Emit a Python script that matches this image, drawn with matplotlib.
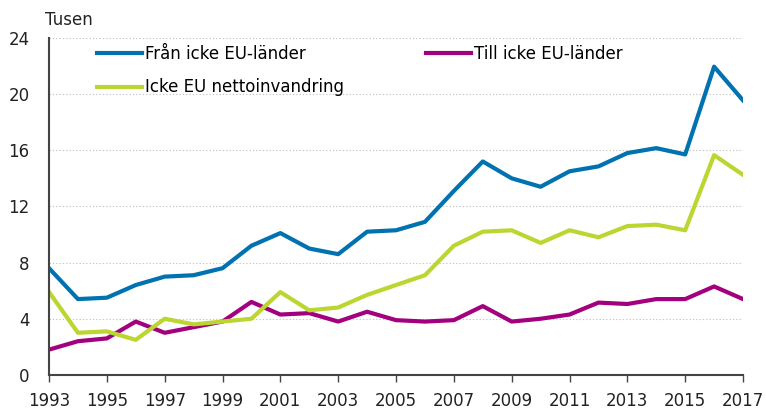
import matplotlib.pyplot as plt

plt.rcParams['font.family'] = ['DejaVu Sans']

years = list(range(1993, 2018))
fran = [7.6, 5.4, 5.5, 6.4, 7.0, 7.1, 7.6, 9.2, 10.1, 9.0, 8.6, 10.2, 10.3,
        10.9, 13.1, 15.2, 14.0, 13.4, 14.5, 14.85, 15.8, 16.15, 15.7, 21.95, 19.55]
till = [1.8, 2.4, 2.6, 3.8, 3.0, 3.4, 3.8, 5.2, 4.3, 4.4, 3.8, 4.5, 3.9,
        3.8, 3.9, 4.9, 3.8, 4.0, 4.3, 5.15, 5.05, 5.4, 5.4, 6.3, 5.4]
netto = [5.9, 3.0, 3.1, 2.5, 4.0, 3.6, 3.8, 4.0, 5.9, 4.6, 4.8, 5.7, 6.4,
         7.1, 9.2, 10.2, 10.3, 9.4, 10.3, 9.8, 10.6, 10.7, 10.3, 15.65, 14.25]
yticks = [0, 4, 8, 12, 16, 20, 24]
xticks = list(range(1993, 2018, 2))

fig = plt.figure(figsize=(7.66, 4.12), dpi=100)
ax = fig.add_axes([0.064, 0.09, 0.906, 0.818])

l1, = ax.plot(years, fran, color="#0072B0", lw=3, label="Från icke EU-länder")
l2, = ax.plot(years, till, color="#A3007E", lw=3, label="Till icke EU-länder")
l3, = ax.plot(years, netto, color="#BCD631", lw=3, label="Icke EU nettoinvandring")

ax.set_xlim(1993, 2017)
ax.set_ylim(0, 24)
ax.set_yticks(yticks)
ax.set_xticks(xticks)
ax.set_xticklabels([str(x) for x in xticks])
ax.tick_params(axis="y", length=0, labelsize=12, pad=14, colors="#222222")
ax.tick_params(axis="x", length=5, width=1, color="#444444", labelsize=12,
               pad=7, labelcolor="#222222")
ax.grid(axis="y", color="#C4C4C4", linestyle=(0, (1.2, 1.8)), linewidth=0.8)
ax.set_axisbelow(True)
for s in ["top", "right"]:
    ax.spines[s].set_visible(False)
for s in ["left", "bottom"]:
    ax.spines[s].set_color("#444444")
    ax.spines[s].set_linewidth(1.5)

fig.text(0.059, 0.952, "Tusen", fontsize=12, color="#222222", va="center")

ax.legend(handles=[l1, l3, l2], ncol=2, loc="upper left",
          bbox_to_anchor=(0.059, 1.0), frameon=False, fontsize=12,
          handlelength=2.7, handletextpad=0.2, columnspacing=4.9,
          labelspacing=0.95, borderaxespad=0)

fig.savefig("out.png", dpi=100)
